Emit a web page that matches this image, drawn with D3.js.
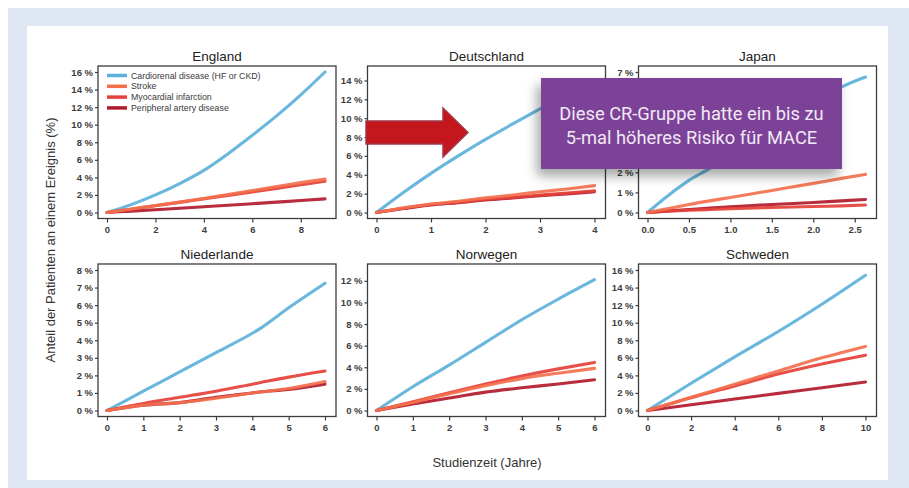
<!DOCTYPE html>
<html><head><meta charset="utf-8">
<script src="https://cdn.jsdelivr.net/npm/d3@7"></script>
<style>html,body{margin:0;padding:0;background:#fff;}svg{display:block;}</style>
</head><body>
<svg id="chart" width="909" height="488"></svg>
<script>
// ---------------- data ----------------
const countries = ["England", "Deutschland", "Japan", "Niederlande", "Norwegen", "Schweden"];
const seriesNames = ["Cardiorenal disease (HF or CKD)", "Stroke", "Myocardial infarction", "Peripheral artery disease"];
const timePoints = [
  [0, 1, 2, 3, 4, 5, 6, 7, 8, 9],
  [0, 0.5, 1, 1.5, 2, 2.5, 3, 3.5, 4],
  [0, 0.25, 0.5, 0.75, 1, 1.5, 2, 2.34, 2.63],
  [0, 1, 2, 3, 4, 4.2, 5, 6],
  [0, 1, 2, 3, 4, 5, 6],
  [0, 2, 4, 6, 8, 10]
];
const cardiorenal = [
  [0, 0.9, 2.0, 3.3, 4.8, 6.7, 8.8, 11.0, 13.4, 16.0],
  [0, 2.15, 4.15, 6.0, 7.75, 9.4, 11.0, 12.55, 14.0],
  [0, 0.85, 1.6, 2.2, 2.9, 4.15, 5.4, 6.25, 6.75],
  [0, 1.1, 2.2, 3.3, 4.4, 4.65, 5.85, 7.25],
  [0, 2.2, 4.2, 6.3, 8.4, 10.3, 12.1],
  [0, 3.1, 6.1, 9.0, 12.1, 15.4]
];
const stroke = [
  [0, 0.4, 0.8, 1.2, 1.6, 2.05, 2.5, 2.95, 3.4, 3.8],
  [0, 0.5, 0.9, 1.2, 1.55, 1.85, 2.2, 2.5, 2.85],
  [0, 0.2, 0.4, 0.58, 0.75, 1.1, 1.45, 1.7, 1.9],
  [0, 0.3, 0.45, 0.7, 1.0, 1.05, 1.25, 1.65],
  [0, 0.75, 1.55, 2.3, 2.95, 3.45, 3.9],
  [0, 1.5, 3.0, 4.5, 6.0, 7.3]
];
const myocardial = [
  [0, 0.38, 0.76, 1.15, 1.55, 1.95, 2.35, 2.75, 3.15, 3.55],
  [0, 0.45, 0.85, 1.1, 1.4, 1.6, 1.85, 2.05, 2.3],
  [0, 0.06, 0.11, 0.15, 0.19, 0.25, 0.3, 0.33, 0.37],
  [0, 0.4, 0.75, 1.1, 1.5, 1.58, 1.9, 2.25],
  [0, 0.8, 1.65, 2.45, 3.2, 3.85, 4.45],
  [0, 1.45, 2.8, 4.15, 5.3, 6.3]
];
const peripheral = [
  [0, 0.16, 0.32, 0.48, 0.65, 0.82, 1.0, 1.18, 1.36, 1.55],
  [0, 0.42, 0.8, 1.05, 1.33, 1.55, 1.78, 1.98, 2.2],
  [0, 0.08, 0.15, 0.22, 0.28, 0.4, 0.5, 0.58, 0.65],
  [0, 0.3, 0.45, 0.75, 1.0, 1.05, 1.2, 1.5],
  [0, 0.6, 1.15, 1.7, 2.1, 2.45, 2.85],
  [0, 0.65, 1.3, 1.95, 2.6, 3.25]
];
const yDomainTop = [16, 14.9, 7, 8, 13, 16];
const yTickValues = [
  [0, 2, 4, 6, 8, 10, 12, 14, 16],
  [0, 2, 4, 6, 8, 10, 12, 14],
  [0, 1, 2, 3, 4, 5, 6, 7],
  [0, 1, 2, 3, 4, 5, 6, 7, 8],
  [0, 2, 4, 6, 8, 10, 12],
  [0, 2, 4, 6, 8, 10, 12, 14, 16]
];
const xTickValues = [
  [0, 2, 4, 6, 8],
  [0, 1, 2, 3, 4],
  [0, 0.5, 1.0, 1.5, 2.0, 2.5],
  [0, 1, 2, 3, 4, 5, 6],
  [0, 1, 2, 3, 4, 5, 6],
  [0, 2, 4, 6, 8, 10]
];
const xDomainEnd = [9, 4, 2.63, 6, 6, 10];
const xTickDecimals = [0, 0, 1, 0, 0, 0];
const seriesColors = ["#5cb1d9", "#f3704d", "#e4413a", "#b21a2e"];
const yAxisTitle = "Anteil der Patienten an einem Ereignis (%)";
const xAxisTitle = "Studienzeit (Jahre)";
const calloutLines = ["Diese CR-Gruppe hatte ein bis zu", "5-mal höheres Risiko für MACE"];

// ---------------- layout ----------------
const svg = d3.select("#chart");
const defs = svg.append("defs");
const f = defs.append("filter").attr("id", "shadow").attr("x", "-20%").attr("y", "-20%").attr("width", "140%").attr("height", "160%");
f.append("feDropShadow").attr("dx", -4).attr("dy", 7).attr("stdDeviation", 6)
  .attr("flood-color", "#000").attr("flood-opacity", 0.35);

svg.append("rect").attr("x", 8).attr("y", 8).attr("width", 901).attr("height", 480).attr("fill", "#e0e7f4");
svg.append("rect").attr("x", 27).attr("y", 26).attr("width", 861).attr("height", 454).attr("fill", "#ffffff");

const colLeft = [98, 367.5, 638.5];
const panelW = 238;
const rowTop = [66, 264];
const panelH = 152.5;
const tickFont = "'Liberation Sans', Arial, sans-serif";
const labelFont = "'Liberation Sans', Arial, sans-serif";

countries.forEach((name, i) => {
  const col = i % 3, row = Math.floor(i / 3);
  const left = colLeft[col], top = rowTop[row];
  const right = left + panelW, bottom = top + panelH;
  const g = svg.append("g");
  const x = d3.scaleLinear().domain([0, xDomainEnd[i]]).range([left + 9, xDomainEnd[i] === 2.63 ? left + 227 : right - 11]);
  const y = d3.scaleLinear().domain([0, yDomainTop[i]]).range([bottom - 6, top + 6]);

  // frame
  g.append("rect").attr("x", left).attr("y", top).attr("width", panelW).attr("height", panelH)
    .attr("fill", "none").attr("stroke", "#3c3c3c").attr("stroke-width", 1.3);

  // axes
  const yAxis = d3.axisLeft(y).tickValues(yTickValues[i]).tickSize(3).tickPadding(2)
    .tickFormat(d => d + " %");
  const ya = g.append("g").attr("transform", `translate(${left},0)`).call(yAxis);
  ya.select(".domain").remove();
  ya.selectAll("line").attr("stroke", "#3c3c3c").attr("stroke-width", 1.2);
  ya.selectAll("text").attr("font-family", tickFont).attr("font-size", 9.5).attr("font-weight", "bold").attr("fill", "#3d3d3d");

  const xAxis = d3.axisBottom(x).tickValues(xTickValues[i]).tickSize(4).tickPadding(4)
    .tickFormat(d => d.toFixed(xTickDecimals[i]));
  const xa = g.append("g").attr("transform", `translate(0,${bottom})`).call(xAxis);
  xa.select(".domain").remove();
  xa.selectAll("line").attr("stroke", "#3c3c3c").attr("stroke-width", 1.2);
  xa.selectAll("text").attr("font-family", tickFont).attr("font-size", 9.5).attr("font-weight", "bold").attr("fill", "#3d3d3d");

  // title
  g.append("text").attr("x", left + panelW / 2).attr("y", top - 5).attr("text-anchor", "middle")
    .attr("font-family", labelFont).attr("font-size", 13.5).attr("font-weight", 400).attr("fill", "#222")
    .text(name);

  // lines
  const sets = [cardiorenal[i], stroke[i], myocardial[i], peripheral[i]];
  const line = d3.line().x(d => x(d[0])).y(d => y(d[1])).curve(d3.curveMonotoneX);
  [0, 3, 2, 1].forEach(s => {
    const pts = timePoints[i].map((t, k) => [t, sets[s][k]]);
    g.append("path").attr("d", line(pts)).attr("fill", "none")
      .attr("stroke", seriesColors[s]).attr("stroke-width", 3.1).attr("stroke-opacity", 0.92)
      .attr("stroke-linecap", "round").attr("stroke-linejoin", "round");
  });

  // legend in first panel
  if (i === 0) {
    const lg = g.append("g");
    seriesNames.forEach((sn, s) => {
      const ly = top + 9.5 + s * 10.8;
      lg.append("line").attr("x1", left + 9).attr("x2", left + 29).attr("y1", ly).attr("y2", ly)
        .attr("stroke", seriesColors[s]).attr("stroke-width", 3.5);
      lg.append("text").attr("x", left + 33).attr("y", ly + 3).attr("font-family", tickFont)
        .attr("font-size", 8.8).attr("fill", "#3a3a3a").text(sn);
    });
  }
});

// axis titles
svg.append("text").attr("transform", "translate(55,240) rotate(-90)").attr("text-anchor", "middle")
  .attr("font-family", labelFont).attr("font-size", 13).attr("fill", "#333")
  .text(yAxisTitle);
svg.append("text").attr("x", 487).attr("y", 467).attr("text-anchor", "middle")
  .attr("font-family", labelFont).attr("font-size", 13).attr("fill", "#333")
  .text(xAxisTitle);

// arrow annotation
svg.append("path")
  .attr("d", "M366,121 L443,121 L443,108 L468,132.5 L443,157 L443,144 L366,144 Z")
  .attr("fill", "#c3161d").attr("stroke", "#a3394a").attr("stroke-width", 1.5).attr("stroke-linejoin", "miter");

// callout box
svg.append("rect").attr("x", 541).attr("y", 78).attr("width", 301).attr("height", 91)
  .attr("fill", "#7b4397").attr("filter", "url(#shadow)");
calloutLines.forEach((t, k) => {
  svg.append("text").attr("x", 691.5).attr("y", 119.5 + k * 24.5).attr("text-anchor", "middle")
    .attr("font-family", "Roboto, 'Liberation Sans', sans-serif").attr("font-size", 18.3)
    .attr("fill", "#f1e9f5").text(t);
});
</script>
</body></html>
